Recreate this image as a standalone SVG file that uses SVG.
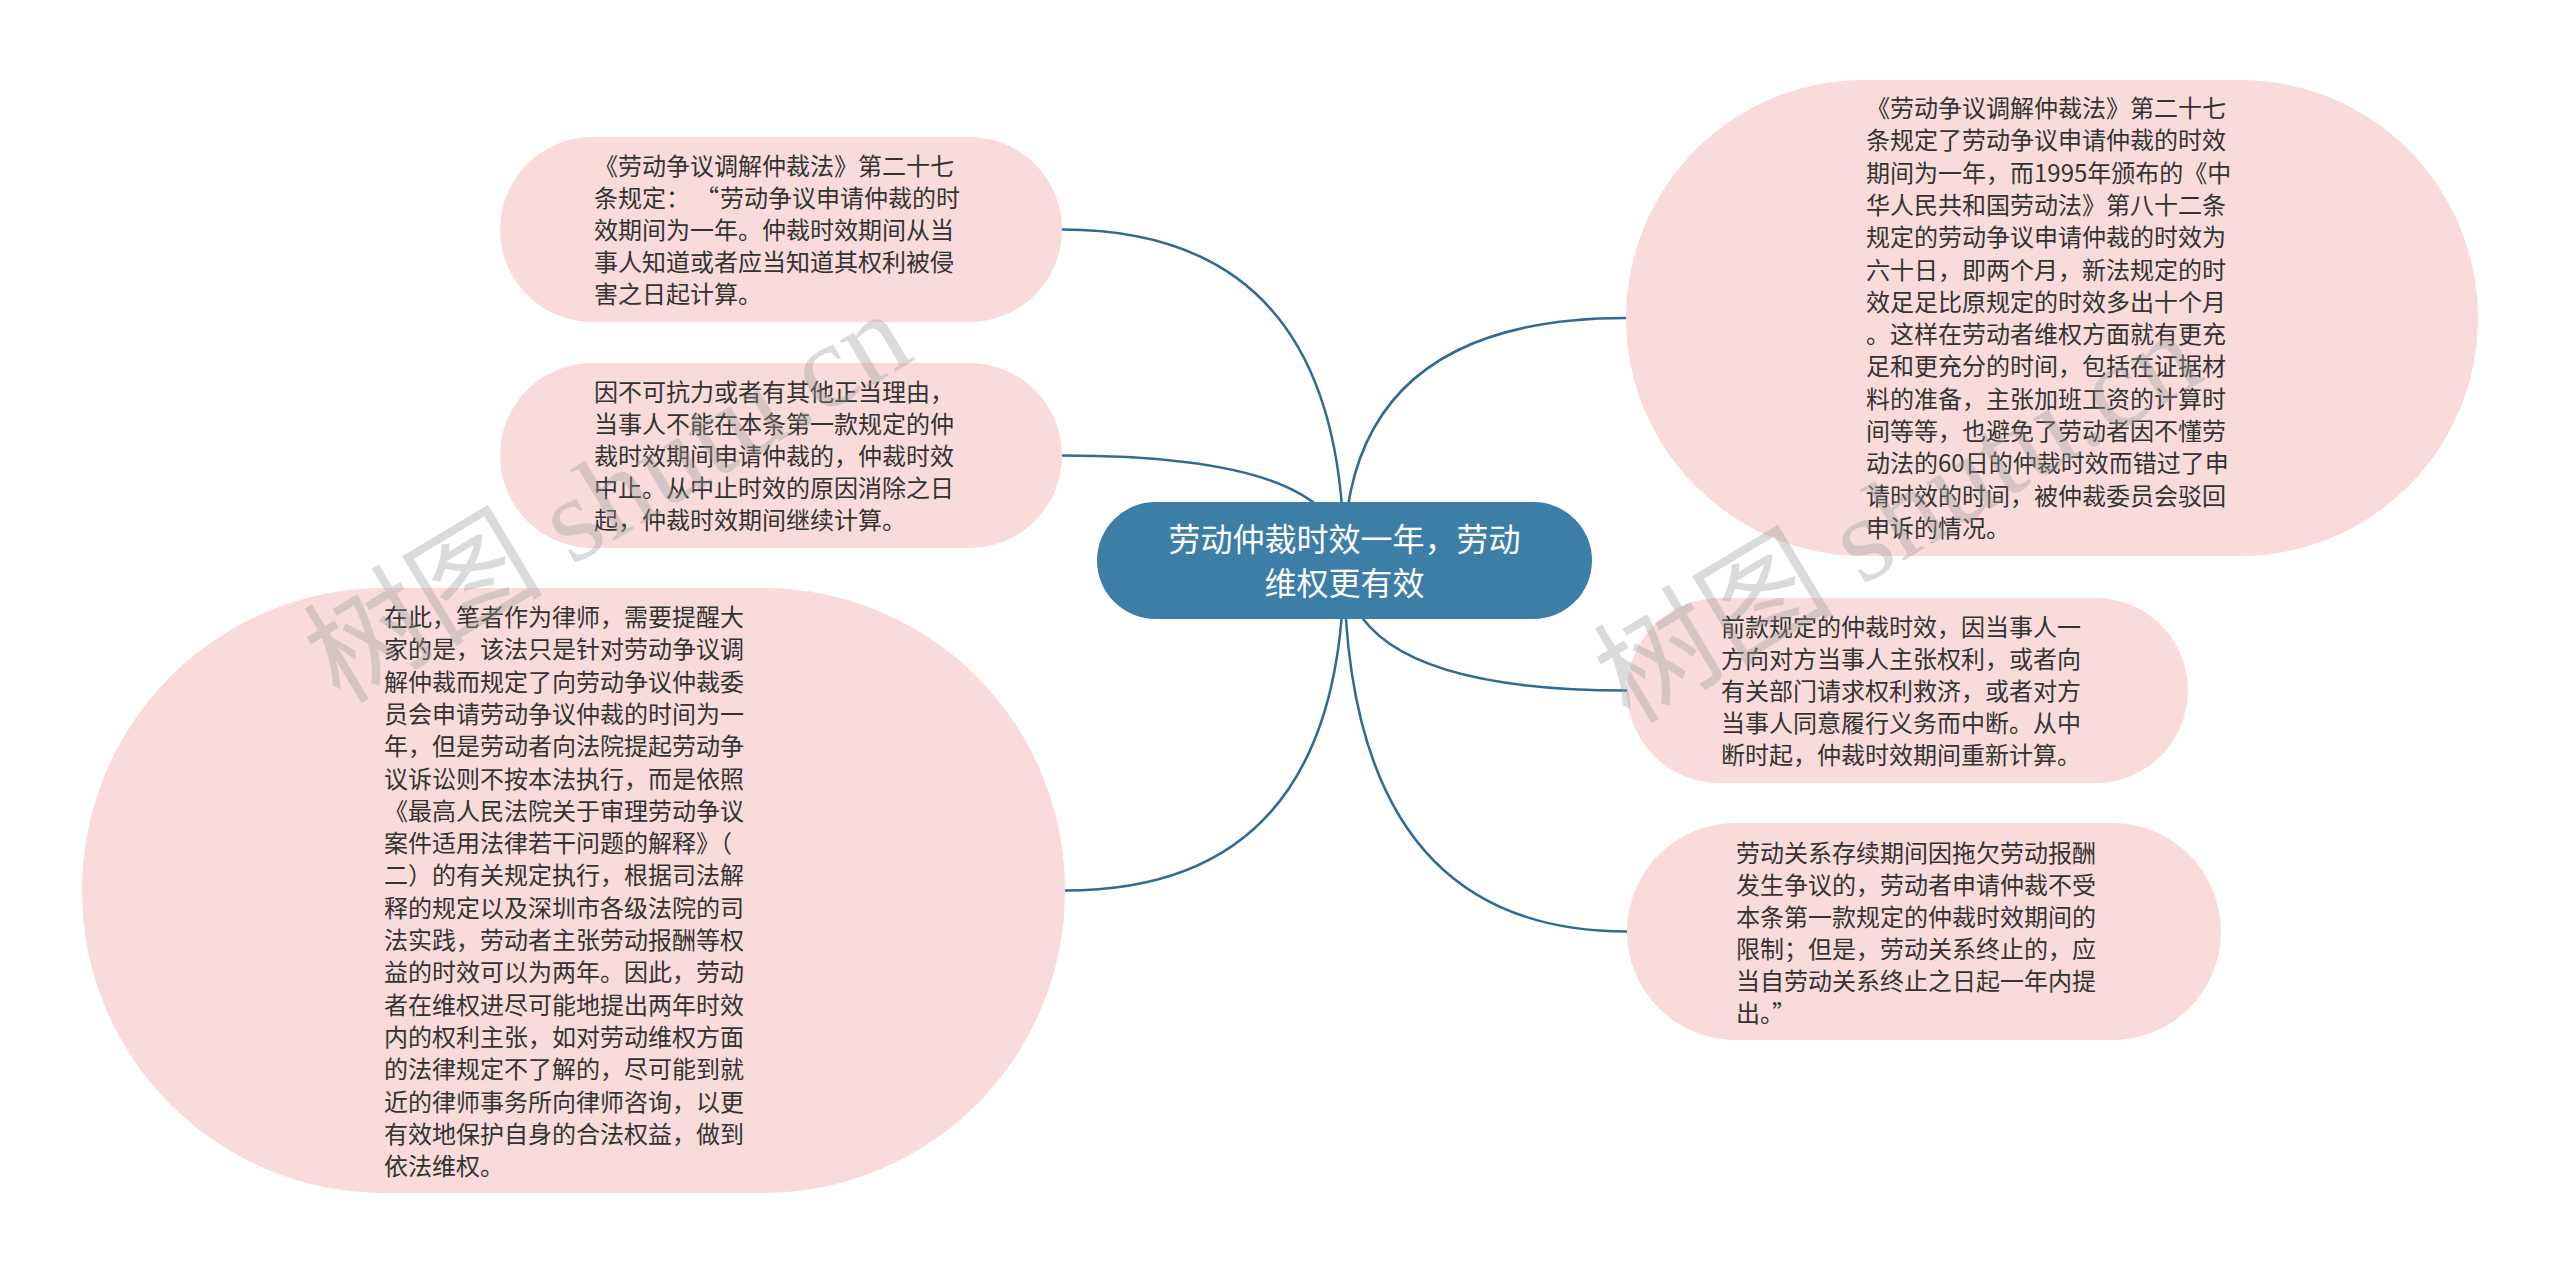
<svg xmlns="http://www.w3.org/2000/svg" width="2560" height="1275" viewBox="0 0 2560 1275">
<style>
.bg{fill:#ffffff}
.leaf{fill:#f9dbdb}
.root{fill:#3d7ea6}
.t{font-family:"Noto Sans CJK SC","Noto Sans",sans-serif;font-size:24px;fill:#333333}
.rt{font-family:"Noto Sans CJK SC","Noto Sans",sans-serif;font-size:32px;fill:#ffffff;text-anchor:middle}
.edge{fill:none;stroke:#2f6c93;stroke-width:2.5}
.wm{font-family:"Liberation Serif","Noto Sans CJK SC",serif;font-size:120px;fill:#9a9a9a;opacity:0.35}
</style>
<rect class="bg" x="0" y="0" width="2560" height="1275"/>
<g id="connectors">
<path class="edge" d="M1344 560 Q1344 229.5 1062 229.5"/>
<path class="edge" d="M1344 560 Q1344 455.5 1062 455.5"/>
<path class="edge" d="M1344 560 Q1344 890.5 1065 890.5"/>
<path class="edge" d="M1344 560 Q1344 318 1626 318"/>
<path class="edge" d="M1344 560 Q1344 690.5 1627 690.5"/>
<path class="edge" d="M1344 560 Q1344 931.5 1627 931.5"/>
</g>
<g id="root">
<rect class="root" x="1097" y="502" width="495" height="117" rx="58.5"/>
<text class="rt" x="1344.5" y="551">劳动仲裁时效一年，劳动</text>
<text class="rt" x="1344.5" y="595">维权更有效</text>
</g>
<g id="node1">
<rect class="leaf" x="500" y="137" width="562" height="185" rx="92.5"/>
<text class="t" x="594" y="175">《劳动争议调解仲裁法》第二十七</text>
<text class="t" x="594" y="207">条规定：<tspan dx="17">“</tspan><tspan dx="1">劳动争议申请仲裁的时</tspan></text>
<text class="t" x="594" y="239">效期间为一年。仲裁时效期间从当</text>
<text class="t" x="594" y="271">事人知道或者应当知道其权利被侵</text>
<text class="t" x="594" y="303">害之日起计算。</text>
</g>
<g id="node2">
<rect class="leaf" x="500" y="363" width="562" height="185" rx="92.5"/>
<text class="t" x="594" y="401">因不可抗力或者有其他正当理由，</text>
<text class="t" x="594" y="433">当事人不能在本条第一款规定的仲</text>
<text class="t" x="594" y="465">裁时效期间申请仲裁的，仲裁时效</text>
<text class="t" x="594" y="497">中止。从中止时效的原因消除之日</text>
<text class="t" x="594" y="529">起，仲裁时效期间继续计算。</text>
</g>
<g id="node3">
<rect class="leaf" x="82" y="588" width="983" height="605" rx="302"/>
<text class="t" x="384" y="626">在此，笔者作为律师，需要提醒大</text>
<text class="t" x="384" y="658.3">家的是，该法只是针对劳动争议调</text>
<text class="t" x="384" y="690.6">解仲裁而规定了向劳动争议仲裁委</text>
<text class="t" x="384" y="722.9">员会申请劳动争议仲裁的时间为一</text>
<text class="t" x="384" y="755.2">年，但是劳动者向法院提起劳动争</text>
<text class="t" x="384" y="787.5">议诉讼则不按本法执行，而是依照</text>
<text class="t" x="384" y="819.8">《最高人民法院关于审理劳动争议</text>
<text class="t" x="384" y="852.1">案件适用法律若干问题的解释》（</text>
<text class="t" x="384" y="884.4">二）的有关规定执行，根据司法解</text>
<text class="t" x="384" y="916.7">释的规定以及深圳市各级法院的司</text>
<text class="t" x="384" y="949">法实践，劳动者主张劳动报酬等权</text>
<text class="t" x="384" y="981.3">益的时效可以为两年。因此，劳动</text>
<text class="t" x="384" y="1013.6">者在维权进尽可能地提出两年时效</text>
<text class="t" x="384" y="1045.9">内的权利主张，如对劳动维权方面</text>
<text class="t" x="384" y="1078.2">的法律规定不了解的，尽可能到就</text>
<text class="t" x="384" y="1110.5">近的律师事务所向律师咨询，以更</text>
<text class="t" x="384" y="1142.8">有效地保护自身的合法权益，做到</text>
<text class="t" x="384" y="1175.1">依法维权。</text>
</g>
<g id="node4">
<rect class="leaf" x="1626" y="80" width="852" height="476" rx="238"/>
<text class="t" x="1866" y="117">《劳动争议调解仲裁法》第二十七</text>
<text class="t" x="1866" y="149.3">条规定了劳动争议申请仲裁的时效</text>
<text class="t" x="1866" y="181.6">期间为一年，而1995年颁布的《中</text>
<text class="t" x="1866" y="213.9">华人民共和国劳动法》第八十二条</text>
<text class="t" x="1866" y="246.2">规定的劳动争议申请仲裁的时效为</text>
<text class="t" x="1866" y="278.5">六十日，即两个月，新法规定的时</text>
<text class="t" x="1866" y="310.8">效足足比原规定的时效多出十个月</text>
<text class="t" x="1866" y="343.1">。这样在劳动者维权方面就有更充</text>
<text class="t" x="1866" y="375.4">足和更充分的时间，包括在证据材</text>
<text class="t" x="1866" y="407.7">料的准备，主张加班工资的计算时</text>
<text class="t" x="1866" y="440">间等等，也避免了劳动者因不懂劳</text>
<text class="t" x="1866" y="472.3">动法的60日的仲裁时效而错过了申</text>
<text class="t" x="1866" y="504.6">请时效的时间，被仲裁委员会驳回</text>
<text class="t" x="1866" y="536.9">申诉的情况。</text>
</g>
<g id="node5">
<rect class="leaf" x="1627" y="598" width="561" height="185" rx="92.5"/>
<text class="t" x="1721" y="636">前款规定的仲裁时效，因当事人一</text>
<text class="t" x="1721" y="668">方向对方当事人主张权利，或者向</text>
<text class="t" x="1721" y="700">有关部门请求权利救济，或者对方</text>
<text class="t" x="1721" y="732">当事人同意履行义务而中断。从中</text>
<text class="t" x="1721" y="764">断时起，仲裁时效期间重新计算。</text>
</g>
<g id="node6">
<rect class="leaf" x="1627" y="823" width="594" height="217" rx="108.5"/>
<text class="t" x="1736" y="862">劳动关系存续期间因拖欠劳动报酬</text>
<text class="t" x="1736" y="894">发生争议的，劳动者申请仲裁不受</text>
<text class="t" x="1736" y="926">本条第一款规定的仲裁时效期间的</text>
<text class="t" x="1736" y="958">限制；但是，劳动关系终止的，应</text>
<text class="t" x="1736" y="990">当自劳动关系终止之日起一年内提</text>
<text class="t" x="1736" y="1022">出。”</text>
</g>
<g id="watermark">
<text class="wm" transform="translate(340 705) rotate(-31)">树图 shutu.cn</text>
<text class="wm" transform="translate(1630 725) rotate(-31)">树图 shutu.cn</text>
</g>
</svg>
